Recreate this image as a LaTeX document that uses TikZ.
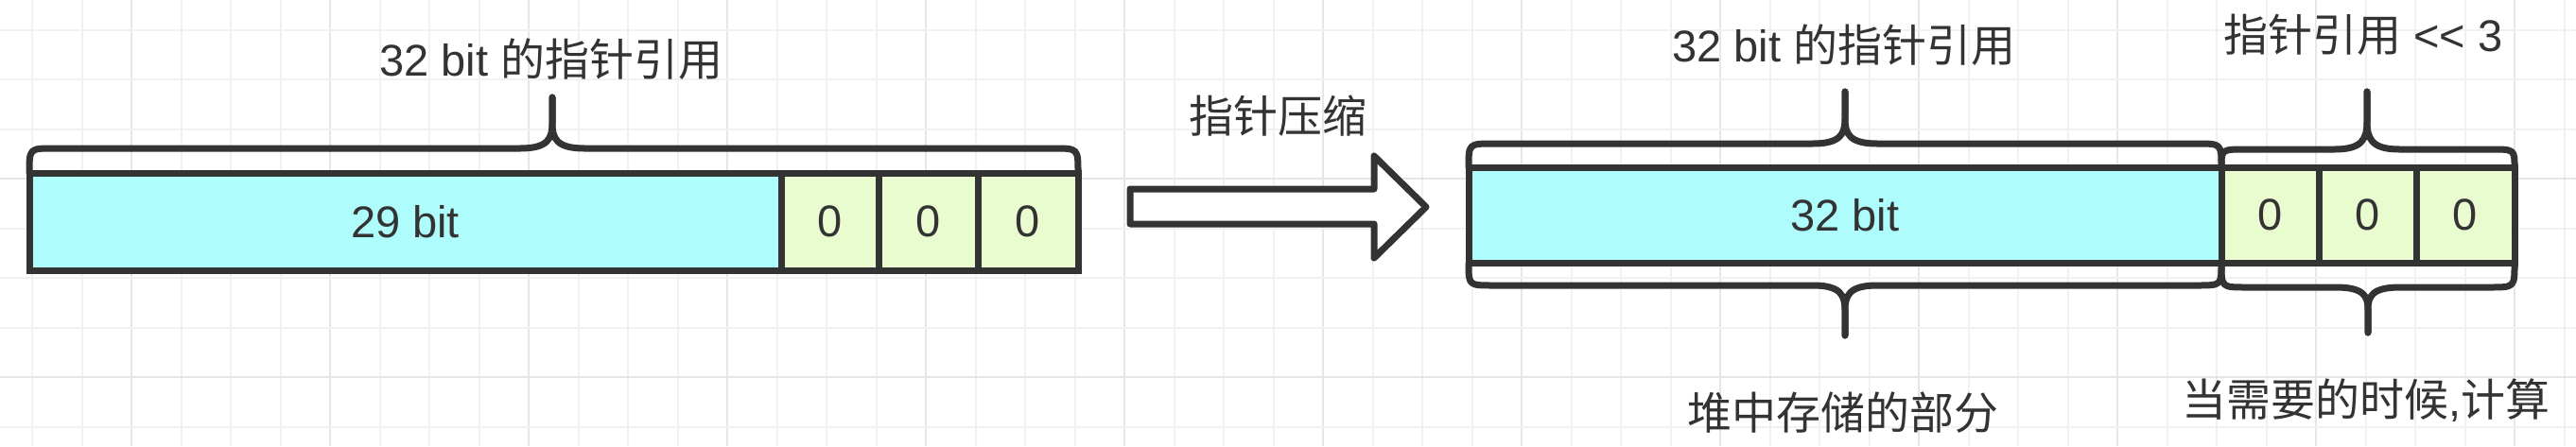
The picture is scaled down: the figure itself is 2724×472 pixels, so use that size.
\documentclass[tikz,border=0pt]{standalone}
\usepackage{fontspec}
\setmainfont{Liberation Sans}
\newfontfamily\cjk{Noto Sans CJK SC}
\definecolor{ink}{HTML}{333333}
\definecolor{cyanfill}{HTML}{AFFCFC}
\definecolor{greenfill}{HTML}{E8FCD0}
\definecolor{gridminor}{HTML}{F1F1F1}
\definecolor{gridmajor}{HTML}{E6E6E6}
\tikzset{
  bitbox/.style={draw=ink, line width=7pt, inner sep=0pt, text=ink,
    font=\fontsize{47}{54}\selectfont},
  bluebox/.style={bitbox, fill=cyanfill},
  zerobox/.style={bitbox, fill=greenfill},
  label/.style={text=ink, inner sep=0pt, font=\fontsize{47}{54}\selectfont},
  bracestyle/.style={draw=ink, line width=7pt, line cap=round, line join=round},
}
% x1 x2 yend yline xmid ytip yknee r
\newcommand\curlyb[8]{%
  \draw[bracestyle] (#1,#3) .. controls (#1,#4) .. ({#1+#8},#4) -- ({#5-#8-8},#4)
    .. controls ({#5-4},#4) and (#5,{#4+(#7-#4)*0.4}) .. (#5,#7) -- (#5,#6);
  \draw[bracestyle] (#5,#6) -- (#5,#7) .. controls (#5,{#4+(#7-#4)*0.4}) and ({#5+4},#4) .. ({#5+#8+8},#4)
    -- ({#2-#8},#4) .. controls (#2,#4) .. (#2,#3);}
\begin{document}
\begin{tikzpicture}[x=1pt,y=-1pt]
\useasboundingbox (0,0) rectangle (2724,472);
\fill[white] (0,0) rectangle (2724,472);
% grid
\foreach \i in {0,...,51}{
  \pgfmathtruncatemacro\m{mod(\i+2,4)}
  \ifnum\m=0
    \draw[gridmajor, line width=2pt] ({34+52.5*\i},0) -- ({34+52.5*\i},472);
  \else
    \draw[gridminor, line width=2pt] ({34+52.5*\i},0) -- ({34+52.5*\i},472);
  \fi}
\foreach \j in {0,...,8}{
  \pgfmathtruncatemacro\m{mod(\j+1,4)}
  \ifnum\m=0
    \draw[gridmajor, line width=2pt] (0,{31.5+52.5*\j}) -- (2724,{31.5+52.5*\j});
  \else
    \draw[gridminor, line width=2pt] (0,{31.5+52.5*\j}) -- (2724,{31.5+52.5*\j});
  \fi}

% left bar
\node[bluebox, minimum width=795pt, minimum height=103pt] (lb) at (428.5,234.5) {29 bit};
\node[zerobox, minimum width=103pt, minimum height=103pt] (lz1) at (877.5,234.5) {0};
\node[zerobox, minimum width=105pt, minimum height=103pt] (lz2) at (981.5,234.5) {0};
\node[zerobox, minimum width=106pt, minimum height=103pt] (lz3) at (1087,234.5) {0};

% right bar
\node[bluebox, minimum width=796pt, minimum height=101pt] (rb) at (1951,227.5) {32 bit};
\node[zerobox, minimum width=103pt, minimum height=101pt] (rz1) at (2400.5,227.5) {0};
\node[zerobox, minimum width=103pt, minimum height=101pt] (rz2) at (2503.5,227.5) {0};
\node[zerobox, minimum width=104pt, minimum height=101pt] (rz3) at (2607,227.5) {0};

% block arrow
\draw[draw=ink, fill=white, line width=7pt, line join=round]
  (1195,200) -- (1453,200) -- (1453,165) -- (1508,219) -- (1453,273)
  -- (1453,237) -- (1195,237) -- cycle;

% braces
\curlyb{31}{1140}{183}{157}{584}{103}{130}{26}
\curlyb{1553}{2349}{177}{152}{1951}{97}{125}{26}
\curlyb{2349}{2659}{177}{158}{2503}{97}{128}{26}
\curlyb{1553}{2349}{279}{302}{1951}{355}{329}{26}
\curlyb{2349}{2659}{279}{304}{2504}{352}{328}{26}

% labels
\node[label] (t1) at (583,63) {32 bit {\cjk 的指针引用}};
\node[label] (t2) at (1351,123) {{\cjk 指针压缩}};
\node[label] (t3) at (1950,48) {32 bit {\cjk 的指针引用}};
\node[label] (t4) at (2499,37) {{\cjk 指针引用} <{}< 3};
\node[label] (t5) at (1949,437) {{\cjk 堆中存储的部分}};
\node[label] (t6) at (2502,424) {{\cjk 当需要的时候},{\cjk 计算}};
\end{tikzpicture}
\end{document}
